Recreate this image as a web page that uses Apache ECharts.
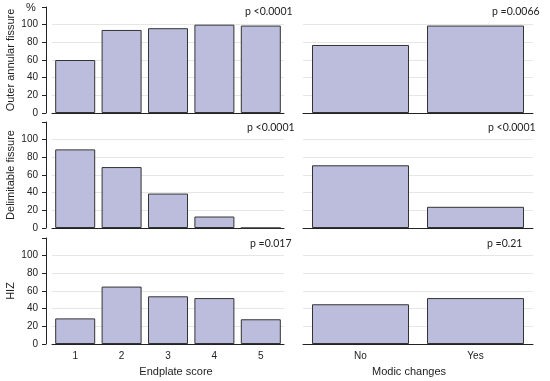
<!DOCTYPE html>
<html>
<head>
<meta charset="utf-8">
<script src="https://cdn.jsdelivr.net/npm/echarts@6/dist/echarts.min.js"></script>
<style>
html,body{margin:0;padding:0;background:#fff;}
#chart{width:550px;height:381px;}
</style>
</head>
<body>
<div id="chart"></div>
<script>
const endplateCats = ['1', '2', '3', '4', '5'];
const modicCats = ['No', 'Yes'];
const outerEndplate = [60, 94, 96, 100, 99];
const outerModic = [77, 99];
const delimEndplate = [89, 69, 39, 13, 0];
const delimModic = [71, 24];
const hizEndplate = [29, 65, 54, 52, 28];
const hizModic = [45, 52];
const rowNames = ['Outer annular fissure', 'Delimitable fissure', 'HIZ'];
const pEndplate = ['p <0.0001', 'p <0.0001', 'p =0.017'];
const pModic = ['p =0.0066', 'p <0.0001', 'p =0.21'];
const yMin = 0, yMax = 120, yStep = 20;
const xNames = ['Endplate score', 'Modic changes'];

const endplateRows = [outerEndplate, delimEndplate, hizEndplate];
const modicRows = [outerModic, delimModic, hizModic];

const FONT = 'Liberation Sans, Arial, sans-serif';
const PFONT = 'Lato, Liberation Sans, sans-serif';
const barFill = '#BCBDDD';
const gridCol = '#E6E6E6';
const tops = [7, 122, 238];
const H = 106;

const grids = [], xAxes = [], yAxes = [], series = [], graphics = [];
const splitColors = [gridCol, gridCol, gridCol, gridCol, gridCol, gridCol, 'rgba(0,0,0,0)'];

for (let r = 0; r < 3; r++) {
  const last = r === 2;
  // left panel
  grids.push({left: 52, width: 232, top: tops[r], height: H});
  // right panel
  grids.push({left: 303, width: 230, top: tops[r], height: H});
  for (let c = 0; c < 2; c++) {
    const gi = r * 2 + c;
    xAxes.push({
      type: 'category', gridIndex: gi,
      data: c === 0 ? endplateCats : modicCats,
      axisLine: {show: true, lineStyle: {color: '#222', width: 1}},
      axisTick: {show: false},
      axisLabel: {show: last, fontFamily: FONT, fontSize: 10, color: '#222', margin: 7},
      name: last ? xNames[c] : '',
      nameLocation: 'middle', nameGap: 22,
      nameTextStyle: {fontFamily: FONT, fontSize: 11, color: '#222',
        padding: c === 0 ? [0, 0, 0, 16] : [0, 18, 0, 0]}
    });
    yAxes.push({
      type: 'value', gridIndex: gi, min: yMin, max: yMax, interval: yStep,
      offset: c === 0 ? 6 : 0,
      axisLine: {show: c === 0, lineStyle: {color: '#222', width: 1}},
      axisTick: {show: c === 0, length: 4, lineStyle: {color: '#222'}},
      axisLabel: {show: c === 0, fontFamily: FONT, fontSize: 10, color: '#222', margin: 8,
        formatter: v => (v > 100 ? '' : String(v))},
      splitLine: {show: true, lineStyle: {color: splitColors, width: 1}},
      name: c === 0 ? rowNames[r] : '',
      nameLocation: 'middle', nameGap: 30, nameRotate: 90,
      nameTextStyle: {fontFamily: FONT, fontSize: 11, color: '#222'}
    });
    series.push({
      type: 'bar', xAxisIndex: gi, yAxisIndex: gi,
      data: c === 0 ? endplateRows[r] : modicRows[r],
      barWidth: c === 0 ? 40 : 97,
      itemStyle: {color: barFill, borderColor: '#333', borderWidth: 1},
      silent: true, animation: false
    });
  }
}

const pLeftX = [245, 247, 250];
const pRightX = [492, 488, 487];
const pY = [12, 128, 244];
for (let r = 0; r < 3; r++) {
  graphics.push({type: 'text', left: pLeftX[r], top: pY[r] - 6,
    style: {text: pEndplate[r], font: '10.5px ' + PFONT, fill: '#222'}});
  graphics.push({type: 'text', left: pRightX[r], top: pY[r] - 6,
    style: {text: pModic[r], font: '10.5px ' + PFONT, fill: '#222'}});
}
graphics.push({type: 'text', left: 26, top: 2,
  style: {text: '%', font: '11px ' + FONT, fill: '#222'}});

const chart = echarts.init(document.getElementById('chart'), null, {renderer: 'canvas'});
chart.setOption({
  animation: false,
  backgroundColor: '#fff',
  grid: grids, xAxis: xAxes, yAxis: yAxes, series: series,
  graphic: graphics
});
</script>
</body>
</html>
